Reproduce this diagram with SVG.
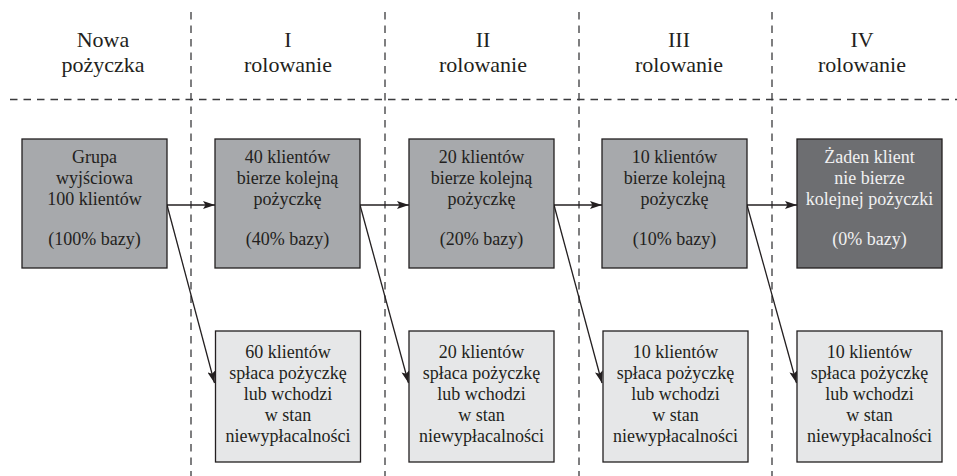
<svg xmlns="http://www.w3.org/2000/svg" width="957" height="476" viewBox="0 0 957 476">
<style>
text{font-family:"Liberation Serif","Times New Roman",serif;fill:#231f20;text-anchor:middle}
.h{font-size:22px}
.t{font-size:18px}
.w{fill:#f1f1f2}
.dash{stroke:#3a3a3c;stroke-width:1.3;stroke-dasharray:7.5 6;fill:none}
.mid{fill:#a7a9ac;stroke:#231f20;stroke-width:1.3}
.dark{fill:#6d6e71;stroke:#231f20;stroke-width:1.3}
.light{fill:#e6e7e8;stroke:#231f20;stroke-width:1.3}
.c{stroke:#231f20;stroke-width:1.3;fill:none;marker-end:url(#ah)}
</style>
<defs>
<marker id="ah" viewBox="0 0 12 8" refX="12" refY="4" markerWidth="12" markerHeight="8" markerUnits="userSpaceOnUse" orient="auto">
<path d="M0,0 L12,4 L0,8 L2.5,4 z" fill="#231f20"/>
</marker>
</defs>
<rect width="957" height="476" fill="#ffffff"/>
<g id="grid">
<line class="dash" x1="10" y1="99.5" x2="957" y2="99.5"/>
<line class="dash" x1="191" y1="12" x2="191" y2="476"/>
<line class="dash" x1="385" y1="12" x2="385" y2="476"/>
<line class="dash" x1="579" y1="12" x2="579" y2="476"/>
<line class="dash" x1="772" y1="12" x2="772" y2="476"/>
</g>
<g id="headers">
<text class="h" x="103" y="47">Nowa</text><text class="h" x="103" y="72">pożyczka</text>
<text class="h" x="288" y="47">I</text><text class="h" x="288" y="72">rolowanie</text>
<text class="h" x="483" y="47">II</text><text class="h" x="483" y="72">rolowanie</text>
<text class="h" x="679" y="47">III</text><text class="h" x="679" y="72">rolowanie</text>
<text class="h" x="862" y="47">IV</text><text class="h" x="862" y="72">rolowanie</text>
</g>
<g id="connectors">
<line class="c" x1="167" y1="205" x2="215" y2="205"/>
<line class="c" x1="360" y1="205" x2="409" y2="205"/>
<line class="c" x1="554" y1="205" x2="602" y2="205"/>
<line class="c" x1="747" y1="205" x2="797" y2="205"/>
<line class="c" x1="167" y1="205" x2="214.5" y2="383"/>
<line class="c" x1="360" y1="205" x2="408.5" y2="383"/>
<line class="c" x1="554" y1="205" x2="602" y2="383"/>
<line class="c" x1="747" y1="205" x2="796.5" y2="383"/>
</g>
<g id="n0">
<rect class="mid" x="22" y="139" width="145" height="129"/>
<text class="t" x="94.5" y="163">Grupa</text>
<text class="t" x="94.5" y="184">wyjściowa</text>
<text class="t" x="94.5" y="205">100 klientów</text>
<text class="t" x="94.5" y="245">(100% bazy)</text>
</g>
<g id="n1">
<rect class="mid" x="215" y="139" width="145" height="129"/>
<text class="t" x="287.5" y="163">40 klientów</text>
<text class="t" x="287.5" y="184">bierze kolejną</text>
<text class="t" x="287.5" y="205">pożyczkę</text>
<text class="t" x="287.5" y="245">(40% bazy)</text>
</g>
<g id="n2">
<rect class="mid" x="409" y="139" width="145" height="129"/>
<text class="t" x="481.5" y="163">20 klientów</text>
<text class="t" x="481.5" y="184">bierze kolejną</text>
<text class="t" x="481.5" y="205">pożyczkę</text>
<text class="t" x="481.5" y="245">(20% bazy)</text>
</g>
<g id="n3">
<rect class="mid" x="602" y="139" width="145" height="129"/>
<text class="t" x="674.5" y="163">10 klientów</text>
<text class="t" x="674.5" y="184">bierze kolejną</text>
<text class="t" x="674.5" y="205">pożyczkę</text>
<text class="t" x="674.5" y="245">(10% bazy)</text>
</g>
<g id="n4">
<rect class="dark" x="797" y="139" width="145" height="129"/>
<text class="t w" x="869.5" y="163">Żaden klient</text>
<text class="t w" x="869.5" y="184">nie bierze</text>
<text class="t w" x="869.5" y="205">kolejnej pożyczki</text>
<text class="t w" x="869.5" y="245">(0% bazy)</text>
</g>
<g id="b1">
<rect class="light" x="215.5" y="331" width="145" height="131"/>
<text class="t" x="288" y="358">60 klientów</text>
<text class="t" x="288" y="379">spłaca pożyczkę</text>
<text class="t" x="288" y="400">lub wchodzi</text>
<text class="t" x="288" y="421">w stan</text>
<text class="t" x="288" y="442">niewypłacalności</text>
</g>
<g id="b2">
<rect class="light" x="409" y="331" width="145" height="131"/>
<text class="t" x="481.5" y="358">20 klientów</text>
<text class="t" x="481.5" y="379">spłaca pożyczkę</text>
<text class="t" x="481.5" y="400">lub wchodzi</text>
<text class="t" x="481.5" y="421">w stan</text>
<text class="t" x="481.5" y="442">niewypłacalności</text>
</g>
<g id="b3">
<rect class="light" x="603" y="331" width="145" height="131"/>
<text class="t" x="675.5" y="358">10 klientów</text>
<text class="t" x="675.5" y="379">spłaca pożyczkę</text>
<text class="t" x="675.5" y="400">lub wchodzi</text>
<text class="t" x="675.5" y="421">w stan</text>
<text class="t" x="675.5" y="442">niewypłacalności</text>
</g>
<g id="b4">
<rect class="light" x="797" y="331" width="145" height="131"/>
<text class="t" x="869.5" y="358">10 klientów</text>
<text class="t" x="869.5" y="379">spłaca pożyczkę</text>
<text class="t" x="869.5" y="400">lub wchodzi</text>
<text class="t" x="869.5" y="421">w stan</text>
<text class="t" x="869.5" y="442">niewypłacalności</text>
</g>
</svg>
